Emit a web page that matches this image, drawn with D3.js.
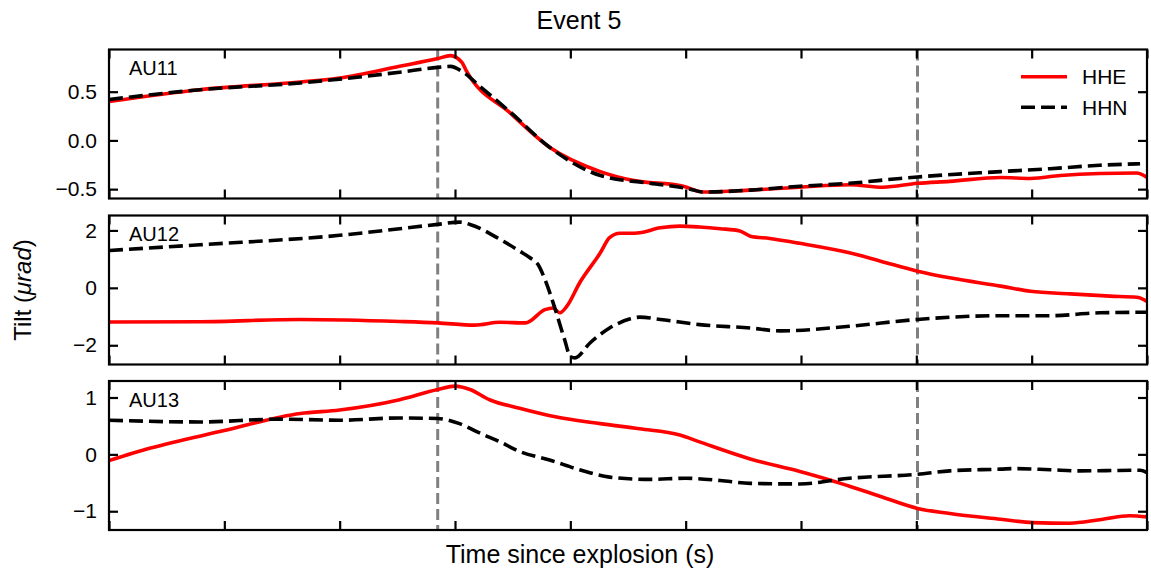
<!DOCTYPE html>
<html>
<head>
<meta charset="utf-8">
<script src="https://cdn.jsdelivr.net/npm/d3@7"></script>
<style>
  body { margin: 0; background: #fff; }
  text { font-family: "Liberation Sans", Arial, sans-serif; fill: #000; }
</style>
</head>
<body>
<div id="chart"></div>
<script>
// time since explosion, seconds (tick labels are hidden in the figure)
var xDomain = [-30, 60];
var xTicks = [-30, -20, -10, 0, 10, 20, 30, 40, 50, 60];
var markerTimes = [-1.5, 40.1];

var stations = ["AU11", "AU12", "AU13"];
var yDomains = [[-0.596, 0.933], [-2.67, 2.52], [-1.33, 1.29]];
var yTicks = [[-0.5, 0.0, 0.5], [-2, 0, 2], [-1, 0, 1]];
var yFormats = [".1f", "d", "d"];

// AU11
var au11HheT = [-30, -22.1, -13.4, -10, -4.8, -1.5, -0.4, 0.6, 1.0, 4.8, 8.2, 12.6, 15.4, 19.8, 21.5, 25.6, 29.9, 34.2, 37.1, 40.1, 42.9, 47.3, 49.9, 52.5, 55.9, 59.1, 60];
var au11Hhe  = [0.40, 0.52, 0.60, 0.64, 0.76, 0.84, 0.87, 0.80, 0.71, 0.28, -0.07, -0.32, -0.41, -0.47, -0.53, -0.51, -0.48, -0.455, -0.48, -0.44, -0.42, -0.38, -0.39, -0.36, -0.34, -0.335, -0.38];
var au11HhnT = [-30, -22.1, -13.4, -4.8, -1.5, -0.4, 0.6, 2.2, 4.8, 8.2, 12.6, 16.9, 20.4, 21.5, 25.6, 29.9, 34.2, 38.6, 40.1, 47.3, 51.6, 55.9, 59.4];
var au11Hhn  = [0.42, 0.52, 0.59, 0.70, 0.75, 0.76, 0.71, 0.55, 0.29, -0.07, -0.36, -0.44, -0.50, -0.53, -0.51, -0.47, -0.44, -0.39, -0.375, -0.32, -0.29, -0.255, -0.24];

// AU12
var au12HheT = [-30, -22.1, -13.4, -4.8, -1.5, 1.7, 3.9, 6.1, 7.8, 8.5, 9.1, 9.7, 10.8, 12.6, 13.4, 14.3, 15.2, 16.0, 17.8, 19.5, 21.2, 23.0, 24.7, 25.6, 27.3, 29.9, 34.2, 36.9, 40.1, 42.9, 47.3, 49.9, 53.3, 56.8, 59.1, 60];
var au12Hhe  = [-1.19, -1.18, -1.10, -1.17, -1.22, -1.30, -1.20, -1.22, -0.76, -0.70, -0.87, -0.64, 0.17, 1.22, 1.75, 1.90, 1.90, 1.92, 2.09, 2.15, 2.12, 2.06, 1.98, 1.80, 1.72, 1.55, 1.22, 0.93, 0.58, 0.35, 0.06, -0.12, -0.21, -0.29, -0.33, -0.47];
var au12HhnT = [-30, -22.1, -10, -4.8, -1.5, 0.4, 1.3, 3.9, 5.6, 6.5, 7.2, 7.8, 8.7, 9.5, 10.0, 10.4, 11.7, 13.4, 15.2, 16.0, 17.8, 21.2, 25.6, 28.2, 34.2, 40.1, 47.3, 51.6, 55.9, 60];
var au12Hhn  = [1.30, 1.50, 1.83, 2.06, 2.21, 2.29, 2.21, 1.69, 1.28, 1.05, 0.81, 0.29, -0.76, -1.80, -2.39, -2.44, -1.92, -1.40, -1.08, -1.02, -1.10, -1.28, -1.40, -1.50, -1.34, -1.10, -0.97, -0.97, -0.87, -0.85];

// AU13
var au13HheT = [-30, -26.4, -20.4, -13.4, -10, -4.8, -1.5, 0.0, 1.3, 3.0, 5.6, 8.7, 12.6, 16.0, 19.5, 21.2, 25.6, 29.9, 32.5, 34.2, 36.9, 40.1, 42.9, 47.3, 50.1, 53.3, 55.9, 58.5, 60];
var au13Hhe  = [-0.11, 0.11, 0.40, 0.72, 0.78, 0.96, 1.14, 1.20, 1.14, 0.96, 0.81, 0.66, 0.54, 0.45, 0.34, 0.22, -0.08, -0.30, -0.45, -0.56, -0.74, -0.95, -1.04, -1.14, -1.20, -1.21, -1.15, -1.08, -1.10];
var au13HhnT = [-30, -22.1, -15.2, -10, -4.8, -1.5, 0.4, 2.2, 3.9, 5.6, 8.2, 10.8, 13.4, 16.9, 20.0, 23.0, 25.6, 29.9, 34.2, 40.1, 42.9, 47.3, 48.6, 51.6, 54.2, 59.4, 60];
var au13Hhn  = [0.60, 0.57, 0.62, 0.60, 0.64, 0.63, 0.54, 0.37, 0.22, 0.05, -0.10, -0.27, -0.40, -0.44, -0.42, -0.46, -0.51, -0.52, -0.42, -0.35, -0.29, -0.26, -0.25, -0.27, -0.29, -0.28, -0.32];

var hheTimes = [au11HheT, au12HheT, au13HheT];
var hheVals  = [au11Hhe, au12Hhe, au13Hhe];
var hhnTimes = [au11HhnT, au12HhnT, au13HhnT];
var hhnVals  = [au11Hhn, au12Hhn, au13Hhn];

var W = 1151, H = 575;
var left = 109, right = 1147;
var panelTops = [49.5, 215.5, 381];
var panelH = 149;

var svg = d3.select("#chart").append("svg")
  .attr("width", W)
  .attr("height", H);

svg.append("rect").attr("width", W).attr("height", H).style("fill", "#ffffff");

var x = d3.scaleLinear().domain(xDomain).range([left, right]);

function zip(ts, vs) {
  return ts.map(function(t, i) { return [t, vs[i]]; });
}

function drawPanel(p) {
  var pTop = panelTops[p], pBottom = pTop + panelH;
  var y = d3.scaleLinear().domain(yDomains[p]).range([pBottom, pTop]);
  var g = svg.append("g");

  // clip for the curves
  svg.append("clipPath").attr("id", "clip" + p)
    .append("rect")
    .attr("x", left).attr("y", pTop)
    .attr("width", right - left).attr("height", panelH);

  var line = d3.line()
    .x(function(d) { return x(d[0]); })
    .y(function(d) { return y(d[1]); })
    .curve(d3.curveMonotoneX);

  var plot = g.append("g").attr("clip-path", "url(#clip" + p + ")");

  // event markers
  plot.selectAll("line.marker")
    .data(markerTimes)
    .enter().append("line")
    .attr("class", "marker")
    .attr("x1", function(d) { return x(d); })
    .attr("x2", function(d) { return x(d); })
    .attr("y1", pTop)
    .attr("y2", pBottom)
    .style("stroke", "#808080")
    .style("stroke-width", 3)
    .style("stroke-dasharray", "11,5");

  plot.append("path")
    .datum(zip(hheTimes[p], hheVals[p]))
    .attr("d", line)
    .style("fill", "none")
    .style("stroke", "#ff0000")
    .style("stroke-width", 3.6);

  plot.append("path")
    .datum(zip(hhnTimes[p], hhnVals[p]))
    .attr("d", line)
    .style("fill", "none")
    .style("stroke", "#000000")
    .style("stroke-width", 3.6)
    .style("stroke-dasharray", "14,6");

  // axes, ticks inward on all four sides
  var axL = d3.axisLeft(y).tickValues(yTicks[p]).tickSizeInner(-9).tickSizeOuter(0)
    .tickPadding(12).tickFormat(function(d) { return d3.format(yFormats[p])(d).replace("-", "\u2212"); });
  var axR = d3.axisRight(y).tickValues(yTicks[p]).tickSizeInner(-9).tickSizeOuter(0).tickFormat("");
  var axT = d3.axisTop(x).tickValues(xTicks).tickSizeInner(-9).tickSizeOuter(0).tickFormat("");
  var axB = d3.axisBottom(x).tickValues(xTicks).tickSizeInner(-9).tickSizeOuter(0).tickFormat("");

  [[axL, "translate(" + left + ",0)"], [axR, "translate(" + right + ",0)"],
   [axT, "translate(0," + pTop + ")"], [axB, "translate(0," + pBottom + ")"]].forEach(function(a) {
    var ax = g.append("g").attr("transform", a[1]).call(a[0]);
    ax.select(".domain").remove();
    ax.selectAll(".tick line").style("stroke", "#000").style("stroke-width", 2.2);
    ax.selectAll(".tick text").style("font-size", "21px").style("font-family", "Liberation Sans, Arial, sans-serif");
  });

  // frame
  g.append("rect")
    .attr("x", left).attr("y", pTop)
    .attr("width", right - left).attr("height", panelH)
    .style("fill", "none")
    .style("stroke", "#000")
    .style("stroke-width", 2.2);

  // station label
  g.append("text")
    .attr("x", 129)
    .attr("y", pTop + 25.5)
    .style("font-size", "20px")
    .text(stations[p]);
}

for (var p = 0; p < 3; p++) drawPanel(p);

// legend
var legend = svg.append("g");
var legendItems = [["HHE", "#ff0000", null], ["HHN", "#000000", "14,6"]];
legendItems.forEach(function(it, i) {
  var ly = 76.7 + i * 30.6;
  legend.append("line")
    .attr("x1", 1021).attr("x2", 1067)
    .attr("y1", ly).attr("y2", ly)
    .style("stroke", it[1])
    .style("stroke-width", 3.6)
    .style("stroke-dasharray", it[2]);
  legend.append("text")
    .attr("x", 1082).attr("y", ly + 7.6)
    .style("font-size", "21px")
    .text(it[0]);
});

// title and axis labels
svg.append("text")
  .attr("x", 579).attr("y", 28.5)
  .attr("text-anchor", "middle")
  .style("font-size", "25px")
  .text("Event 5");

svg.append("text")
  .attr("x", 580).attr("y", 563)
  .attr("text-anchor", "middle")
  .style("font-size", "25px")
  .text("Time since explosion (s)");

var ylab = svg.append("text")
  .attr("transform", "translate(31,290) rotate(-90)")
  .attr("text-anchor", "middle")
  .style("font-size", "24px");
ylab.append("tspan").text("Tilt (");
ylab.append("tspan").style("font-style", "italic").text("\u03bcrad");
ylab.append("tspan").text(")");
</script>
</body>
</html>
